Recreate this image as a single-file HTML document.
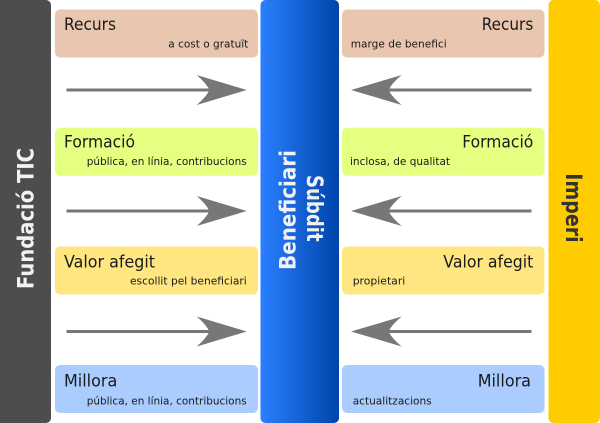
<!DOCTYPE html>
<html>
<head>
<meta charset="utf-8">
<style>
html,body{margin:0;padding:0;background:#fff;}
svg{display:block;}
text{font-family:"DejaVu Sans","Liberation Sans",sans-serif;}
</style>
</head>
<body>
<svg width="600" height="423" viewBox="0 0 600 423" xmlns="http://www.w3.org/2000/svg">
<defs>
<linearGradient id="g" x1="0" y1="0" x2="1" y2="0">
<stop offset="0" stop-color="#2a7fff"/>
<stop offset="1" stop-color="#0044aa"/>
</linearGradient>
</defs>
<rect x="0" y="0" width="600" height="423" fill="#fff"/>
<!-- side bars -->
<rect x="-6" y="0" width="57" height="423" rx="5" fill="#4d4d4d"/>
<rect x="260.5" y="0" width="78.5" height="423" rx="5" fill="url(#g)"/>
<rect x="548.5" y="0" width="51.5" height="423" rx="5" fill="#ffcc00"/>

<!-- left boxes -->
<rect x="55" y="9.5" width="203" height="48" rx="5" fill="#e9c6af"/>
<rect x="55" y="127.7" width="203" height="48" rx="5" fill="#e5ff80"/>
<rect x="55" y="246.5" width="203" height="48" rx="5" fill="#ffe680"/>
<rect x="55" y="365" width="203" height="48" rx="5" fill="#aaccff"/>
<!-- right boxes -->
<rect x="342" y="9.5" width="202.5" height="48" rx="5" fill="#e9c6af"/>
<rect x="342" y="127.7" width="202.5" height="48" rx="5" fill="#e5ff80"/>
<rect x="342" y="246.5" width="202.5" height="48" rx="5" fill="#ffe680"/>
<rect x="342" y="365" width="202.5" height="48" rx="5" fill="#aaccff"/>

<!-- left arrows -->
<g fill="#777" stroke="none">
<rect x="66.5" y="88.5" width="144" height="3"/>
<path d="M246.7,90 L196.7,75 Q206,83 209.5,90 Q206,97 196.7,105 Z"/>
<rect x="66.5" y="209.5" width="144" height="3"/>
<path d="M246.7,211 L196.7,196 Q206,204 209.5,211 Q206,218 196.7,226 Z"/>
<rect x="66.5" y="330" width="144" height="3"/>
<path d="M246.7,331.5 L196.7,316.5 Q206,324.5 209.5,331.5 Q206,338.5 196.7,346.5 Z"/>
<!-- right arrows -->
<rect x="387.5" y="88.5" width="144" height="3"/>
<path d="M351,90 L401.7,75 Q392,83 388.5,90 Q392,97 401.7,105 Z"/>
<rect x="387.5" y="209.5" width="144" height="3"/>
<path d="M351,211 L401.7,196 Q392,204 388.5,211 Q392,218 401.7,226 Z"/>
<rect x="387.5" y="330" width="144" height="3"/>
<path d="M351,331.5 L401.7,316.5 Q392,324.5 388.5,331.5 Q392,338.5 401.7,346.5 Z"/>
</g>

<!-- left texts -->
<g fill="#1a1a1a">
<text x="64" y="30" font-size="17" textLength="52" lengthAdjust="spacingAndGlyphs">Recurs</text>
<text x="248.3" y="47.3" font-size="11" text-anchor="end" textLength="80" lengthAdjust="spacingAndGlyphs">a cost o gratuït</text>
<text x="64" y="147.7" font-size="17" textLength="71" lengthAdjust="spacingAndGlyphs">Formació</text>
<text x="246.7" y="165" font-size="11" text-anchor="end" textLength="160" lengthAdjust="spacingAndGlyphs">pública, en línia, contribucions</text>
<text x="64" y="267.7" font-size="17" textLength="91" lengthAdjust="spacingAndGlyphs">Valor afegit</text>
<text x="246.7" y="284.3" font-size="11" text-anchor="end" textLength="116.7" lengthAdjust="spacingAndGlyphs">escollit pel beneficiari</text>
<text x="64" y="386.7" font-size="17" textLength="53.3" lengthAdjust="spacingAndGlyphs">Millora</text>
<text x="246.7" y="404.3" font-size="11" text-anchor="end" textLength="160" lengthAdjust="spacingAndGlyphs">pública, en línia, contribucions</text>

<!-- right texts -->
<text x="533.3" y="30" font-size="17" text-anchor="end" textLength="51.6" lengthAdjust="spacingAndGlyphs">Recurs</text>
<text x="350.7" y="47.3" font-size="11" textLength="96" lengthAdjust="spacingAndGlyphs">marge de benefici</text>
<text x="533.3" y="147.7" font-size="17" text-anchor="end" textLength="71" lengthAdjust="spacingAndGlyphs">Formació</text>
<text x="350" y="165" font-size="11" textLength="100" lengthAdjust="spacingAndGlyphs">inclosa, de qualitat</text>
<text x="533.3" y="267.7" font-size="17" text-anchor="end" textLength="90" lengthAdjust="spacingAndGlyphs">Valor afegit</text>
<text x="352.7" y="284.3" font-size="11" textLength="52.6" lengthAdjust="spacingAndGlyphs">propietari</text>
<text x="531" y="386.7" font-size="17" text-anchor="end" textLength="53.3" lengthAdjust="spacingAndGlyphs">Millora</text>
<text x="352.7" y="404.3" font-size="11" textLength="79" lengthAdjust="spacingAndGlyphs">actualitzacions</text>
</g>

<!-- vertical labels -->
<text transform="translate(33.5,218.5) rotate(-90)" font-size="22" font-weight="bold" fill="#f2f2f2" text-anchor="middle" textLength="141" lengthAdjust="spacingAndGlyphs">Fundació TIC</text>
<text transform="translate(295.5,210) rotate(-90)" font-size="22" font-weight="bold" fill="#f2f2f2" text-anchor="middle" textLength="120" lengthAdjust="spacingAndGlyphs">Beneficiari</text>
<text transform="translate(307,208.3) rotate(90)" font-size="22" font-weight="bold" fill="#f2f2f2" text-anchor="middle" textLength="66.7" lengthAdjust="spacingAndGlyphs">Súbdit</text>
<text transform="translate(566,208) rotate(90)" font-size="22" font-weight="bold" fill="#333333" text-anchor="middle" textLength="69.4" lengthAdjust="spacingAndGlyphs">Imperi</text>
</svg>
</body>
</html>
